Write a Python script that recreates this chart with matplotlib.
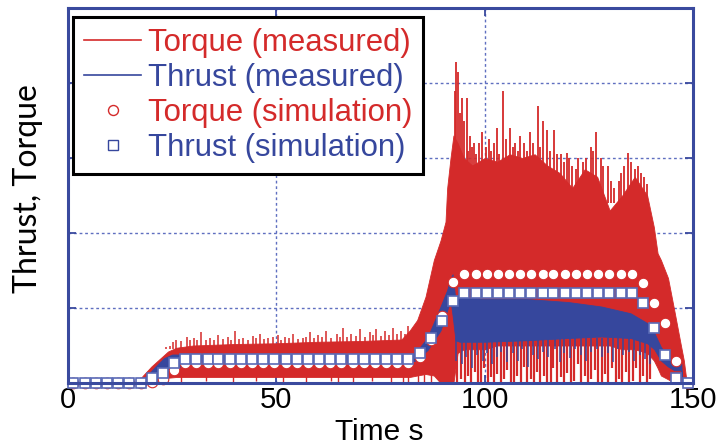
import matplotlib
matplotlib.use("Agg")
import matplotlib.pyplot as plt
from matplotlib.lines import Line2D

plt.rcParams["font.family"] = ["Liberation Sans", "DejaVu Sans"]

RED = "#d42a2a"
BLUE = "#36479d"
FRAME = "#3a4a9e"

# measured torque: envelope of the noisy trace (time s, lower, upper)
torque_t = [0, 16.5, 18, 20, 22, 24, 26, 30, 40, 50, 60, 70, 80, 82, 83.8, 85.8,
            87.8, 89.4, 90.6, 91, 91.8, 92.5, 93.5, 95, 97, 100, 103, 106, 109, 112,
            115, 118, 121, 124, 127, 130, 133, 136, 139, 140.6, 141.5, 142.3, 144,
            145.5, 147, 147.8, 148.5]
torque_hi = [0, 0, 0.1, 0.22, 0.32, 0.42, 0.47, 0.5, 0.52, 0.53, 0.55, 0.56, 0.58,
             0.7, 0.84, 1.15, 1.64, 1.9, 2.15, 2.6, 3.0, 3.3, 3.2, 3.0, 2.9, 3.0,
             2.95, 3.05, 3.0, 3.05, 2.9, 2.8, 2.6, 2.85, 2.75, 2.3, 2.5, 2.75, 2.5,
             2.08, 1.73, 1.64, 1.4, 0.97, 0.53, 0.3, 0]
torque_lo = [0, 0, 0, 0.02, 0.05, 0.07, 0.08, 0.08, 0.08, 0.08, 0.08, 0.08, 0.08,
             0.08, 0.1, 0.12, 0.1, 0, 0, 0, 0, 0, 0.4, 0.45, 0.45, 0.45, 0.5, 0.5,
             0.5, 0.5, 0.5, 0.5, 0.5, 0.5, 0.5, 0.5, 0.45, 0.45, 0.4, 0.3, 0.2, 0.1,
             0.05, 0, 0, 0, 0]

# torque noise peaks above the envelope (low-load part)
torque_pk_t = [23.5, 24.5, 25.3, 26, 27.2, 28.5, 29.3, 30.2, 31, 32, 33, 34, 35, 36,
               37.2, 38.5, 39.2, 40, 41, 42, 43.2, 44.5, 45.2, 46, 47, 48, 49.2, 50.5,
               51.2, 52, 53, 54, 55.2, 56.5, 57.2, 58, 59, 60, 61, 62, 63.2, 64.5,
               65.2, 66, 67, 68, 69, 70, 71.2, 72.5, 73.2, 74, 75, 76, 77, 78, 79, 80,
               80.8, 81.5]
torque_pk_v = [0.48, 0.5, 0.55, 0.58, 0.56, 0.62, 0.57, 0.6, 0.58, 0.68, 0.58, 0.6,
               0.57, 0.64, 0.59, 0.62, 0.58, 0.7, 0.59, 0.6, 0.58, 0.63, 0.6, 0.66,
               0.59, 0.6, 0.61, 0.64, 0.58, 0.62, 0.6, 0.66, 0.59, 0.6, 0.62, 0.68,
               0.6, 0.64, 0.61, 0.7, 0.6, 0.66, 0.62, 0.74, 0.61, 0.65, 0.63, 0.72,
               0.62, 0.68, 0.64, 0.72, 0.63, 0.7, 0.64, 0.74, 0.65, 0.7, 0.66, 0.76]
# torque noise peaks above the envelope (high-load part)
torque_pk2_t = [92.8, 93.0, 93.5, 94.0, 94.5, 95.0, 95.7, 96.0, 96.5, 97.0, 97.5,
                98.0, 98.7, 99.3, 100.2, 101.0, 101.6, 102.3, 102.9, 103.5, 104.5,
                105.2, 106.0, 106.7, 107.3, 108.0, 108.5, 109.5, 110.2, 110.8, 111.6,
                112.7, 113.3, 113.9, 114.9, 115.6, 116.6, 117.3, 118.3, 119.0, 119.7,
                120.3, 121.0, 121.8, 122.5, 123.5, 124.3, 125.5, 126.0, 126.7, 127.8,
                128.5, 129.6, 130.3, 131.0, 132.2, 132.8, 133.5, 134.3, 135.0, 136.0,
                136.8, 137.5, 138.3, 139.0]
torque_pk2_v = [3.9, 4.28, 4.15, 3.6, 3.8, 3.5, 3.8, 3.1, 3.3, 3.15, 3.2, 3.05, 3.2,
                3.35, 3.15, 3.25, 3.1, 3.2, 3.4, 3.05, 3.9, 3.25, 3.4, 3.15, 3.2, 3.1,
                3.3, 3.2, 3.1, 3.35, 3.2, 3.7, 3.15, 3.5, 3.38, 3.1, 3.38, 3.05, 3.05,
                2.95, 3.07, 3.0, 2.9, 2.85, 3.0, 2.95, 3.0, 3.15, 3.1, 3.35, 3.0, 2.9,
                2.9, 2.7, 2.6, 2.7, 2.8, 2.9, 3.07, 2.95, 2.85, 2.9, 2.8, 2.75, 2.65]

# torque noise dips below the envelope
torque_dip_t = [27, 33, 39.5, 45, 51.5, 57, 63, 64.7, 68.5, 73, 77.5, 80.5, 81.7, 84,
                85.5, 87]
torque_dip_v = [0.02, 0.03, 0, 0.03, 0.02, 0, 0.03, 0, 0.02, 0.03, 0, 0.02, 0, 0,
                0.02, 0]
torque_dip2_t = [93.3, 94.2, 95.3, 96.0, 96.8, 97.6, 98.3, 99.0, 99.8, 100.7, 101.5,
                 102.2, 103.0, 103.8, 104.6, 105.3, 106.2, 107.0, 107.7, 108.6, 109.4,
                 110.2, 111.0, 111.8, 112.5, 113.3, 114.2, 115.0, 115.8, 116.5, 117.4,
                 118.2, 119.0, 119.8, 120.6, 121.5, 122.3, 123.1, 124.0, 124.8, 125.6,
                 126.4, 127.2, 128.1, 128.9, 129.7, 130.6, 131.4, 132.2, 133.0, 133.9,
                 134.7, 135.5, 136.4, 137.2, 138.0, 138.9, 139.7]
torque_dip2_v = [0, 0.05, 0, 0.1, 0, 0.15, 0.02, 0, 0.2, 0, 0.08, 0, 0.12, 0, 0.05,
                 0.18, 0, 0, 0.1, 0, 0.22, 0, 0.05, 0, 0.15, 0, 0.1, 0.02, 0, 0.2, 0,
                 0.08, 0, 0.14, 0, 0.03, 0.25, 0, 0.1, 0, 0.05, 0.18, 0, 0, 0.12, 0,
                 0.2, 0, 0.06, 0, 0.15, 0, 0.03, 0.2, 0, 0.1, 0, 0.05]

# measured thrust envelope
thrust_t = [0, 17, 19, 21, 23, 25, 30, 50, 70, 82, 83.4, 86.3, 89.4, 91, 91.8, 92.3,
            93, 94, 100, 110, 120, 128, 135, 139, 140.7, 142.3, 144, 145.5, 147.2,
            147.4]
thrust_hi = [0, 0, 0.1, 0.22, 0.33, 0.38, 0.38, 0.38, 0.38, 0.38, 0.4, 0.61, 1.02,
             1.24, 1.4, 1.45, 1.1, 1.15, 1.12, 1.12, 1.08, 1.02, 0.93, 0.8, 0.67,
             0.48, 0.35, 0.28, 0.26, 0]
thrust_lo = [0, 0, 0.02, 0.06, 0.12, 0.2, 0.25, 0.27, 0.28, 0.28, 0.3, 0.44, 0.7,
             0.97, 1.1, 0.9, 0.57, 0.55, 0.55, 0.57, 0.6, 0.62, 0.6, 0.53, 0.45, 0.3,
             0.22, 0.17, 0.17, 0]
thrust_dip_t = [93.2, 94.6, 95.5, 97.0, 98.2, 99.5, 100.6, 101.8, 103.0, 104.0, 105.4,
                106.8, 108.0, 109.0, 110.3, 111.5, 112.7, 114.0, 115.2, 116.8, 118.0,
                119.0, 120.4, 121.7, 123.0, 124.4, 125.6, 127.0, 128.2, 129.5, 130.8,
                132.0, 133.3, 134.6, 135.8, 137.2, 138.4, 139.6]
thrust_dip_v = [0.3, 0.25, 0.35, 0.2, 0.38, 0.3, 0.4, 0.25, 0.35, 0.42, 0.28, 0.4,
                0.3, 0.45, 0.22, 0.38, 0.32, 0.42, 0.35, 0.45, 0.28, 0.4, 0.33, 0.45,
                0.38, 0.3, 0.42, 0.45, 0.35, 0.4, 0.28, 0.45, 0.38, 0.42, 0.3, 0.38,
                0.32, 0.25]

# simulation results
sim_t = [1.3, 4.0, 6.7, 9.3, 12.0, 14.7, 17.4, 20.1, 22.7, 25.4, 28.1, 30.8, 33.5,
         36.1, 38.8, 41.5, 44.2, 46.9, 49.5, 52.2, 54.9, 57.6, 60.3, 62.9, 65.6,
         68.3, 71.0, 73.7, 76.3, 79.0, 81.7, 84.4, 87.1, 89.7, 92.4, 95.1, 97.8,
         100.5, 103.1, 105.8, 108.5, 111.2, 113.9, 116.5, 119.2, 121.9, 124.6, 127.3,
         129.9, 132.6, 135.3, 138.0, 140.7, 143.3, 146.0, 148.7]
sim_torque = [0, 0, 0, 0, 0, 0, 0, 0.02, 0.06, 0.17, 0.27, 0.27, 0.27, 0.27, 0.27,
              0.27, 0.27, 0.27, 0.27, 0.27, 0.27, 0.27, 0.27, 0.27, 0.27, 0.27, 0.27,
              0.27, 0.27, 0.27, 0.27, 0.35, 0.57, 0.9, 1.35, 1.45, 1.45, 1.45, 1.45,
              1.45, 1.45, 1.45, 1.45, 1.45, 1.45, 1.45, 1.45, 1.45, 1.45, 1.45, 1.45,
              1.33, 1.07, 0.8, 0.3, 0]
sim_thrust = [0, 0, 0, 0, 0, 0, 0, 0.07, 0.14, 0.27, 0.32, 0.32, 0.32, 0.32, 0.32,
              0.32, 0.32, 0.32, 0.32, 0.32, 0.32, 0.32, 0.32, 0.32, 0.32, 0.32, 0.32,
              0.32, 0.32, 0.32, 0.32, 0.40, 0.60, 0.83, 1.10, 1.20, 1.20, 1.20, 1.20,
              1.20, 1.20, 1.20, 1.20, 1.20, 1.20, 1.20, 1.20, 1.20, 1.20, 1.20, 1.20,
              1.07, 0.73, 0.37, 0.07, 0]

fig = plt.figure(figsize=(7.2, 4.47), dpi=100)
ax = fig.add_axes([68 / 720, 1 - 383 / 447, 625 / 720, 375 / 447])

# measured torque
ax.fill_between(torque_t, torque_lo, torque_hi, color=RED, lw=0.6, zorder=2)
ax.vlines(torque_pk_t, 0.45, torque_pk_v, color=RED, lw=1.1, zorder=2)
ax.vlines(torque_pk2_t, 2.4, torque_pk2_v, color=RED, lw=1.3, zorder=2)
ax.vlines(torque_dip_t, torque_dip_v, 0.12, color=RED, lw=1.0, zorder=2)
ax.vlines(torque_dip2_t, torque_dip2_v, 0.55, color=RED, lw=1.6, zorder=2)

# measured thrust
ax.fill_between(thrust_t, thrust_lo, thrust_hi, color=BLUE, lw=0.6, zorder=3)
ax.vlines(thrust_dip_t, thrust_dip_v, 0.6, color=BLUE, lw=1.1, zorder=3)

# simulation
ax.plot(sim_t, sim_torque, ls="none", marker="o", ms=7.6, mfc="white", mec=RED,
        mew=0.8, zorder=4, clip_on=False)
ax.plot(sim_t, sim_thrust, ls="none", marker="s", ms=7.6, mfc="white",
        mec="#5a6ab6", mew=1.2, zorder=5, clip_on=False)

ax.set_xlim(0, 150)
ax.set_ylim(0, 5)
ax.set_xticks([0, 50, 100, 150])
ax.set_yticks([0, 1, 2, 3, 4, 5])
ax.set_yticklabels([])
ax.tick_params(direction="in", top=True, right=True, length=6, width=1.3,
               color=FRAME, labelsize=21, pad=2)
ax.grid(True, color="#5f6fc0", lw=1, ls=(0, (2, 2)))
ax.set_axisbelow(True)
for s in ax.spines.values():
    s.set_color(FRAME)
    s.set_linewidth(2.2)
    s.set_zorder(6)

ax.set_xlabel("Time s", fontsize=21.5, va="baseline")
ax.xaxis.set_label_coords((379.5 - 68) / 625, (383 - 440) / 375)
ax.set_ylabel("Thrust, Torque", fontsize=23, family=["Lato", "DejaVu Sans"],
              va="center")
ax.yaxis.set_label_coords((28 - 68) / 625, (383 - 189) / 375)

handles = [
    Line2D([], [], color=RED, lw=1.2),
    Line2D([], [], color=BLUE, lw=1.2),
    Line2D([], [], ls="none", marker="o", ms=7.2, mfc="white", mec=RED, mew=1),
    Line2D([], [], ls="none", marker="s", ms=7.2, mfc="white", mec=BLUE, mew=1),
]
labels = ["Torque (measured)", "Thrust (measured)", "Torque (simulation)",
          "Thrust (simulation)"]
leg = ax.legend(handles, labels, loc="upper left",
                bbox_to_anchor=((73 - 68) / 625, (383 - 17) / 375),
                borderaxespad=0, fontsize=22.4, frameon=True, fancybox=False,
                framealpha=1, edgecolor="black", borderpad=0.35,
                labelspacing=0.16, handlelength=1.85, handletextpad=0.2)
leg.get_frame().set_linewidth(2.2)
leg.set_zorder(10)
for txt, col in zip(leg.get_texts(), [RED, BLUE, RED, BLUE]):
    txt.set_color(col)

fig.savefig("out.png", dpi=100)
